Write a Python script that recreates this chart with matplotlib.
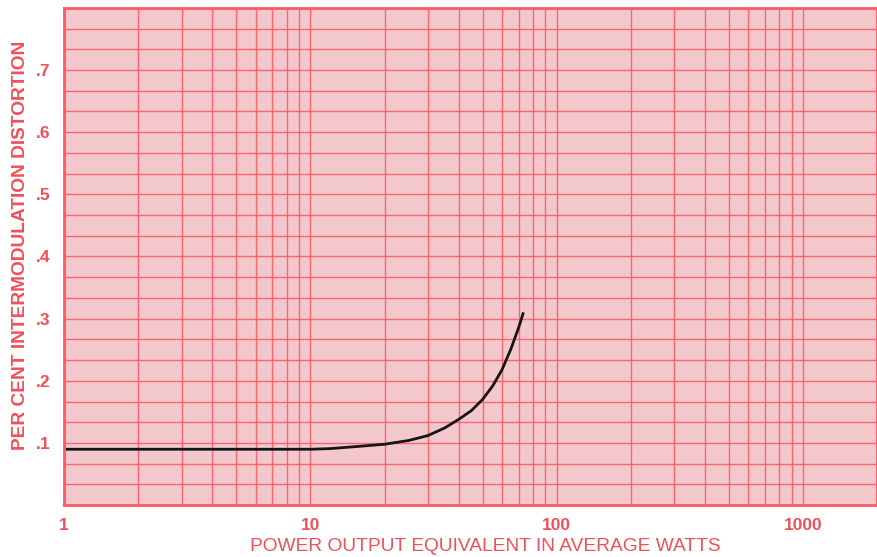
import matplotlib
matplotlib.use("Agg")
import matplotlib.pyplot as plt
from matplotlib.ticker import FixedLocator, NullFormatter

# Curve
watts = [1, 2, 5, 10, 12, 15, 20, 25, 30, 35, 40, 45, 50, 55, 60, 65, 70, 73]
distortion = [0.090, 0.090, 0.090, 0.090, 0.091, 0.094, 0.098, 0.104, 0.112,
              0.124, 0.138, 0.152, 0.170, 0.192, 0.218, 0.250, 0.285, 0.308]

x_ticks = [1, 10, 100, 1000]
x_tick_labels = ["1", "10", "100", "1000"]
y_ticks = [0.1, 0.2, 0.3, 0.4, 0.5, 0.6, 0.7]
y_tick_labels = [".1", ".2", ".3", ".4", ".5", ".6", ".7"]

PAPER = "#f3c8cd"
GRID = "#ff5a64"
TEXT = "#f0505a"

plt.rcParams['font.family'] = ['Liberation Sans', 'DejaVu Sans']

fig = plt.figure(figsize=(8.78, 5.57), dpi=100)
ax = fig.add_axes([0.073, 0.093, 0.926, 0.893])
ax.set_facecolor(PAPER)

ax.set_xscale("log")
ax.set_xlim(1, 2000)
ax.set_ylim(0, 0.8)

# graph-paper grid: every integer step per decade, y every 1/30
minor_x = [m * 10 ** d for d in range(0, 4) for m in range(1, 10)]
ax.xaxis.set_major_locator(FixedLocator(x_ticks))
ax.xaxis.set_minor_locator(FixedLocator(minor_x))
ax.xaxis.set_minor_formatter(NullFormatter())
ax.set_xticklabels(x_tick_labels)
ax.yaxis.set_major_locator(FixedLocator(y_ticks))
ax.yaxis.set_minor_locator(FixedLocator([i / 30 for i in range(1, 24)]))
ax.set_yticklabels(y_tick_labels)

ax.grid(True, which="both", color=GRID, linewidth=1.0, alpha=0.9)
ax.set_axisbelow(True)
ax.tick_params(which="both", length=0)
ax.tick_params(axis="x", pad=9, labelsize=12.5, labelcolor=TEXT)
ax.tick_params(axis="y", pad=10, labelsize=12.5, labelcolor=TEXT)
for lbl in ax.get_xticklabels() + ax.get_yticklabels():
    lbl.set_fontweight("bold")

for side in ["left", "right", "top", "bottom"]:
    ax.spines[side].set_color(GRID)
    ax.spines[side].set_linewidth(2)

ax.plot(watts, distortion, color="#151515", linewidth=2)

ax.set_xlabel("POWER OUTPUT EQUIVALENT IN AVERAGE WATTS", color=TEXT,
              fontsize=13.8)
ax.set_ylabel("PER CENT INTERMODULATION DISTORTION", color=TEXT,
              fontsize=13.8, fontweight="bold")
ax.xaxis.set_label_coords(0.518, -0.066)
ax.yaxis.set_label_coords(-0.043, 0.523)

fig.savefig("out.png", dpi=100)
